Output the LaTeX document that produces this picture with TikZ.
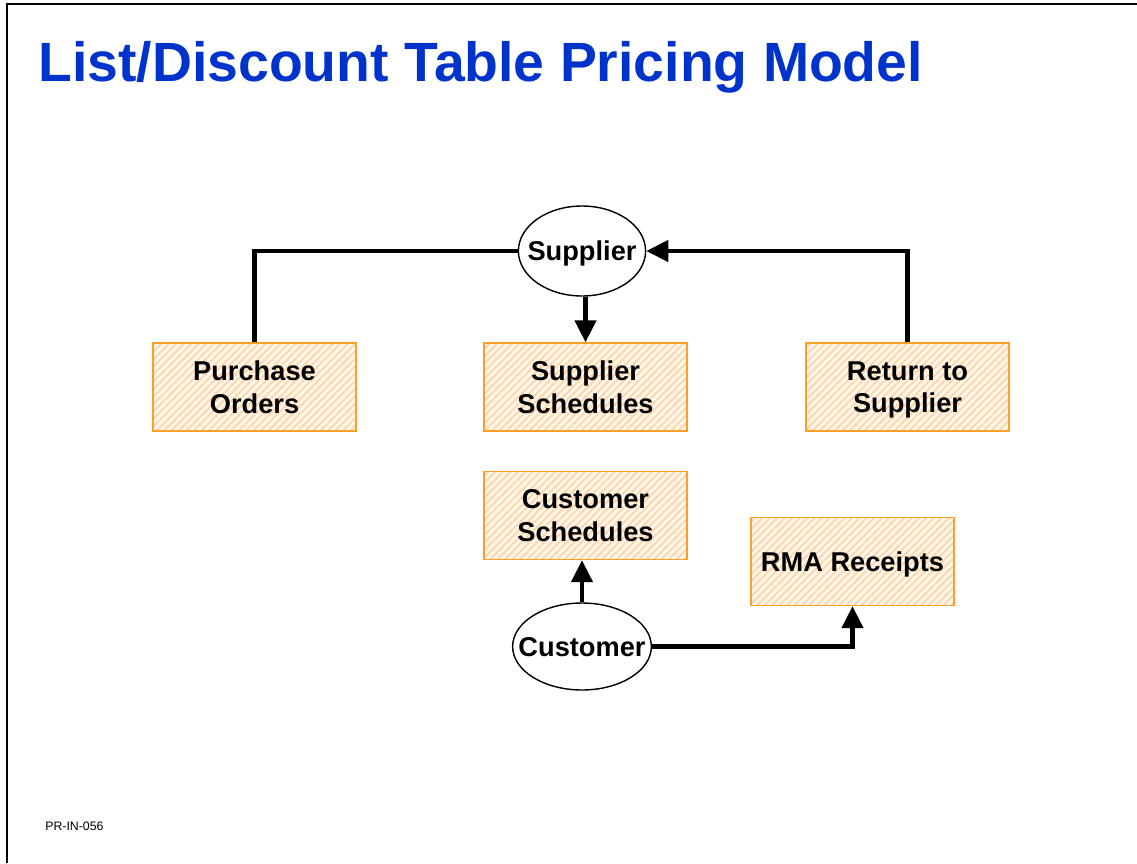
\documentclass[tikz,border=0pt]{standalone}
\usepackage{fontspec}
\setmainfont{Liberation Sans}
\usetikzlibrary{arrows.meta,patterns.meta,shapes.geometric}

\definecolor{titleblue}{RGB}{0,51,204}
\definecolor{boxedge}{RGB}{250,160,40}
\definecolor{boxhatch}{RGB}{255,214,170}
\definecolor{boxback}{RGB}{255,246,236}

\begin{document}
\begin{tikzpicture}[x=0.02cm, y=-0.02cm,
    store/.style={draw=boxedge, line width=0.8pt,
        preaction={fill=boxback},
        pattern={Lines[angle=45, distance=3pt, line width=1.1pt]},
        pattern color=boxhatch,
        minimum width=4.06cm, minimum height=1.76cm, inner sep=0pt,
        text depth=0pt,
        align=center, font=\fontsize{15.5}{18.5}\selectfont\bfseries},
    actor/.style={draw, ellipse, line width=0.8pt, inner ysep=0pt, fill=white,
        text depth=0pt, font=\fontsize{15.5}{18.5}\selectfont\bfseries},
    flow/.style={line width=2.3pt, -{Triangle[width=12pt, length=12.5pt]}},
    link/.style={line width=2.3pt}]
    \useasboundingbox (0,0) rectangle (1137,863);

    % Page frame and heading
    \draw[line width=1.7pt] (7,863) -- (7,4) -- (1137,4);
    \node[anchor=base west, inner sep=0pt, text=titleblue,
        font=\fontsize{31.5}{36}\selectfont\bfseries] (title) at (38,81)
        {List/Discount Table Pricing Model};
    \node[anchor=base west, inner sep=0pt, font=\fontsize{7}{8}\selectfont]
        (code) at (45,830) {PR-IN-056};

    % Document stores
    \node[store] (po) at (254.5,387) {Purchase\\Orders};
    \node[store] (ss) at (585.5,387) {Supplier\\Schedules};
    \node[store] (rs) at (907.5,387) {Return to\\Supplier};
    \node[store] (cs) at (585.5,515.5) {Customer\\Schedules};
    \node[store] (rma) at (852.5,561.5) {RMA Receipts};

    % Trading partners
    \node[actor, inner xsep=-0.19cm, minimum height=1.8cm] (sup) at (582,251) {Supplier};
    \node[actor, inner xsep=-0.29cm, minimum height=1.74cm] (cus) at (582,646.5) {Customer};

    % Supplier side flows
    \draw[link] (po.north) |- (sup.west);
    \draw[flow] (ss.north |- sup.south) -- (ss.north);
    \draw[flow] (rs.north) |- (sup.east);

    % Customer side flows
    \draw[flow] (cus.north) -- (cus.north |- cs.south);
    \draw[flow] (cus.east) -| (rma.south);
\end{tikzpicture}
\end{document}
